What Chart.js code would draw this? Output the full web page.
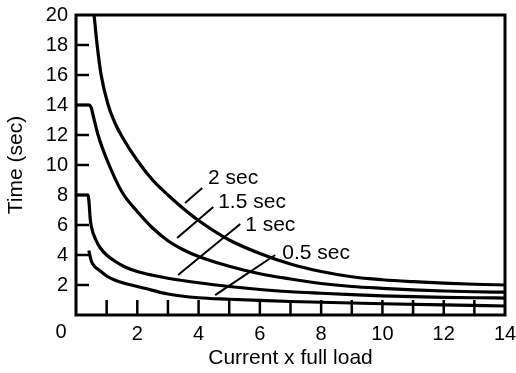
<!DOCTYPE html>
<html>
<head>
<meta charset="utf-8">
<script src="https://cdn.jsdelivr.net/npm/chart.js@4"></script>
<style>
  html, body { margin: 0; padding: 0; background: #fff; overflow: hidden; }
  #wrap { width: 516px; height: 373px; position: relative; }
  canvas { display: block; }
</style>
</head>
<body>
<div id="wrap"><canvas id="chart"></canvas></div>
<script>
// Curve data (current x full load -> time in sec)
const curve2secX = [0.59, 0.69, 0.82, 1.05, 1.25, 1.5, 2.0, 2.5, 3.0, 3.5, 4.0, 5.0, 6.0, 7.0, 8.0, 9.0, 10, 11, 12, 13, 14];
const curve2secY = [20, 18, 16, 14, 12.9, 11.9, 10.3, 9.0, 8.0, 7.1, 6.3, 5.0, 4.1, 3.4, 2.9, 2.55, 2.35, 2.22, 2.12, 2.05, 2.0];

const curve15secX = [0, 0.43, 0.5, 0.56, 0.72, 1.0, 1.5, 2.0, 2.5, 3.0, 3.5, 4.0, 5.0, 6.0, 7.0, 8.0, 9.0, 10, 11, 12, 13, 14];
const curve15secY = [14, 14, 13.8, 13.3, 12, 10.4, 8.2, 6.9, 5.8, 4.95, 4.35, 3.9, 3.25, 2.75, 2.4, 2.1, 1.9, 1.78, 1.68, 1.6, 1.55, 1.52];

const curve1secX = [0, 0.39, 0.43, 0.46, 0.5, 0.65, 0.8, 1.0, 1.3, 1.6, 2.0, 2.5, 3.0, 4.0, 5.0, 6.0, 7.0, 8.0, 9.0, 10, 11, 12, 13, 14];
const curve1secY = [8, 8, 7.4, 6.5, 5.9, 5.0, 4.45, 4.0, 3.55, 3.2, 2.9, 2.65, 2.45, 2.15, 1.9, 1.7, 1.55, 1.45, 1.36, 1.28, 1.22, 1.18, 1.15, 1.13];

const curve05secX = [0.42, 0.45, 0.5, 0.6, 0.75, 1.0, 1.3, 1.7, 2.2, 3.0, 4.0, 5.0, 6.0, 7.0, 8.0, 10, 12, 14];
const curve05secY = [4.3, 4.0, 3.6, 3.25, 3.0, 2.6, 2.3, 2.05, 1.8, 1.4, 1.15, 1.05, 0.97, 0.9, 0.85, 0.75, 0.67, 0.6];

// Curve labels and their pointer lines (data units)
const noteLabels = ['2 sec', '1.5 sec', '1 sec', '0.5 sec'];
const noteLineX0 = [3.56, 3.30, 3.33, 4.54];
const noteLineY0 = [7.47, 5.13, 2.67, 1.33];
const noteLineX1 = [4.12, 4.48, 5.36, 6.5];
const noteLineY1 = [8.47, 7.2, 6.07, 4.0];
const noteTextX = [4.31, 4.64, 5.52, 6.73];
const noteTextY = [9.13, 7.53, 6.0, 4.13];

// Axes
const xTickValues = [0, 2, 4, 6, 8, 10, 12, 14];
const xMinorTicks = [1, 2, 3, 4, 5, 6, 7, 8, 9, 10, 11, 12, 13];
const yMinorTicks = [2, 4, 6, 8, 10, 12, 14, 16, 18];

const FONT = '"Liberation Sans", Arial, Helvetica, sans-serif';
Chart.defaults.font.family = FONT;
Chart.defaults.color = '#000';

function toPoints(xs, ys) {
    return xs.map((x, i) => ({ x: x, y: ys[i] }));
}

function curve(xs, ys) {
    return {
        data: toPoints(xs, ys),
        borderColor: '#000',
        borderWidth: 3.2,
        pointRadius: 0,
        cubicInterpolationMode: 'monotone',
        fill: false
    };
}

const datasets = [
    curve(curve2secX, curve2secY),
    curve(curve15secX, curve15secY),
    curve(curve1secX, curve1secY),
    curve(curve05secX, curve05secY)
];

// pointer lines
noteLabels.forEach((lbl, i) => {
    datasets.push({
        data: [{ x: noteLineX0[i], y: noteLineY0[i] }, { x: noteLineX1[i], y: noteLineY1[i] }],
        borderColor: '#000',
        borderWidth: 2,
        pointRadius: 0,
        fill: false
    });
});

// inner ticks, frame and curve labels
const decorPlugin = {
    id: 'decor',
    afterDatasetsDraw(chart) {
        const { ctx, chartArea: a, scales: { x, y } } = chart;
        ctx.save();
        ctx.strokeStyle = '#000';
        ctx.lineWidth = 2.5;
        xMinorTicks.forEach(v => {
            const px = x.getPixelForValue(v);
            ctx.beginPath();
            ctx.moveTo(px, a.bottom);
            ctx.lineTo(px, a.bottom - 15);
            ctx.stroke();
        });
        yMinorTicks.forEach(v => {
            const py = y.getPixelForValue(v);
            ctx.beginPath();
            ctx.moveTo(a.left, py);
            ctx.lineTo(a.left + 13, py);
            ctx.stroke();
        });
        ctx.lineWidth = 3;
        ctx.strokeRect(a.left, a.top, a.right - a.left, a.bottom - a.top);

        ctx.fillStyle = '#000';
        ctx.font = '21px ' + FONT;
        ctx.textAlign = 'left';
        ctx.textBaseline = 'middle';
        noteLabels.forEach((lbl, i) => {
            ctx.fillText(lbl, x.getPixelForValue(noteTextX[i]), y.getPixelForValue(noteTextY[i]));
        });

        // the origin "0" sits left of the corner
        ctx.font = '20px ' + FONT;
        ctx.textAlign = 'center';
        ctx.fillText('0', x.getPixelForValue(0) - 15, a.bottom + 17);
        ctx.restore();
    }
};

new Chart(document.getElementById('chart'), {
    type: 'line',
    data: { datasets: datasets },
    options: {
        responsive: true,
        maintainAspectRatio: false,
        animation: false,
        layout: { padding: { top: 15, right: 11, left: 0, bottom: 0 } },
        plugins: {
            legend: { display: false },
            tooltip: { enabled: false }
        },
        scales: {
            x: {
                type: 'linear',
                min: 0,
                max: 14,
                afterBuildTicks: scale => { scale.ticks = xTickValues.map(v => ({ value: v })); },
                afterFit: scale => {
                    scale.height = 58;
                    scale.paddingLeft = 0;
                    scale.paddingRight = 0;
                },
                grid: { display: false, drawTicks: false },
                border: { display: false },
                ticks: {
                    font: { size: 20 },
                    padding: 7,
                    maxRotation: 0,
                    callback: v => (v === 0 ? '' : v)
                },
                title: {
                    display: true,
                    text: 'Current x full load',
                    font: { size: 21 },
                    padding: { top: 4, bottom: 2 }
                }
            },
            y: {
                type: 'linear',
                min: 0,
                max: 20,
                afterFit: scale => {
                    scale.width = 76;
                    scale.paddingTop = 0;
                    scale.paddingBottom = 0;
                },
                grid: { display: false, drawTicks: false },
                border: { display: false },
                ticks: {
                    stepSize: 2,
                    font: { size: 20 },
                    padding: 8,
                    callback: v => (v === 0 ? '' : v)
                },
                title: {
                    display: true,
                    text: 'Time (sec)',
                    font: { size: 21 },
                    padding: { top: 4, bottom: 4 }
                }
            }
        }
    },
    plugins: [decorPlugin]
});
</script>
</body>
</html>
